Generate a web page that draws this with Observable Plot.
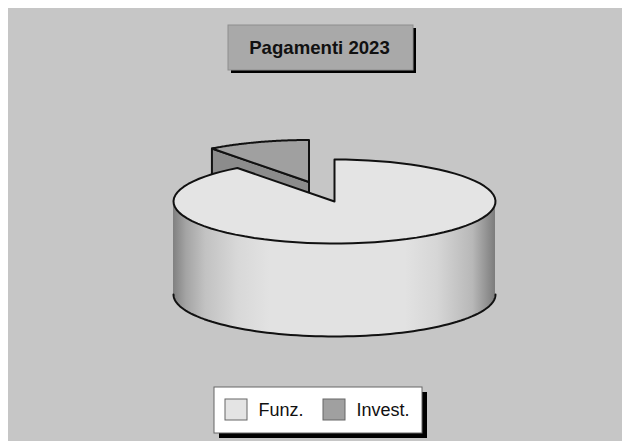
<!DOCTYPE html>
<html><head><meta charset="utf-8">
<script src="https://cdn.jsdelivr.net/npm/d3@7"></script>
<script src="https://cdn.jsdelivr.net/npm/@observablehq/plot@0.6"></script>
<style>html,body{margin:0;padding:0;background:#fff}svg{display:block}</style>
</head><body><div id="c"></div>
<script>
const title = "Pagamenti 2023";
const categories = ["Funz.", "Invest."];
const shares = [89.7, 10.3];
const colors = ["#e4e4e4", "#a0a0a0"];
const sideColor = "#8c8c8c";
const gradStops = [[0,"#808080"],[0.04,"#a4a4a4"],[0.1,"#c2c2c2"],[0.2,"#d8d8d8"],[0.3,"#e2e2e2"],[0.72,"#e2e2e2"],[0.82,"#d6d6d6"],[0.93,"#b8b8b8"],[1,"#7c7c7c"]];

const cx=334, cy=201, rx=161, ry=42, depth=93, ex=-25.5, ey=-19.5;
const inv = shares[1]/100*2*Math.PI;
// angle measured clockwise from 12 o'clock
const pt=(a,dx=0,dy=0)=>({x:cx+dx+rx*Math.sin(a), y:cy+dy-ry*Math.cos(a)});
const arc=(a0,a1,dx=0,dy=0)=>d3.range(81).map(i=>pt(a0+(a1-a0)*i/80,dx,dy));
const funzTop=[{x:cx,y:cy},...arc(0,2*Math.PI-inv),{x:cx,y:cy}];
const invTop=[{x:cx+ex,y:cy+ey},...arc(2*Math.PI-inv,2*Math.PI,ex,ey),{x:cx+ex,y:cy+ey}];
const front=arc(Math.PI/2,3*Math.PI/2);
const frontArea=front.map(p=>({x:p.x,y1:p.y,y2:p.y+depth})).sort((a,b)=>a.x-b.x);
const t=pt(2*Math.PI-inv,ex,ey), v={x:cx+ex,y:cy+ey};
const invSide=[t,v,{x:v.x,y:v.y+depth},{x:t.x,y:t.y+depth},t];

const gradient=()=>{
  const s=d3.create("svg:g");
  const g=s.append("defs").append("linearGradient").attr("id","wall");
  gradStops.forEach(([o,c])=>g.append("stop").attr("offset",o).attr("stop-color",c));
  return s.node();
};
const box=(x1,y1,x2,y2,fill,extra={})=>Plot.rect([{x1,y1,x2,y2}],{x1:"x1",x2:"x2",y1:"y1",y2:"y2",fill,...extra});
const font="Liberation Sans, Arial, sans-serif";

const chart=Plot.plot({
  width:622,height:441,margin:0,
  x:{domain:[0,622],range:[0,622],axis:null},
  y:{domain:[0,441],range:[0,441],axis:null},
  style:{background:"#fff",fontFamily:font},
  marks:[
    gradient,
    box(8,8,622,441,"#c6c6c6"),
    // title
    box(231,28,416,73,"#000"),
    box(228,25,413,70,"#a9a9a9",{stroke:"#8e8e8e"}),
    Plot.text([title],{x:319,y:48,text:d=>d,fontSize:18.6,fontWeight:"bold",fill:"#111"}),
    // exploded wedge
    Plot.line(invSide,{x:"x",y:"y",fill:sideColor,stroke:"#111",strokeWidth:2}),
    Plot.line(invTop,{x:"x",y:"y",fill:colors[1],stroke:"#111",strokeWidth:2}),
    // main wall
    Plot.areaY(frontArea,{x:"x",y1:"y1",y2:"y2",fill:"url(#wall)"}),
    Plot.line(front.map(p=>({x:p.x,y:p.y+depth})),{x:"x",y:"y",stroke:"#111",strokeWidth:2}),
    Plot.line(funzTop,{x:"x",y:"y",fill:colors[0],stroke:"#111",strokeWidth:2}),
    // legend
    box(219,392,427,438,"#000"),
    box(214,387,422,433,"#fff",{stroke:"#666"}),
    box(225,399,247,420,colors[0],{stroke:"#666"}),
    box(323,399,345,420,colors[1],{stroke:"#666"}),
    Plot.text([categories[0]],{x:258,y:410,text:d=>d,fontSize:18,textAnchor:"start",fill:"#111"}),
    Plot.text([categories[1]],{x:356,y:410,text:d=>d,fontSize:18,textAnchor:"start",fill:"#111"})
  ]
});
document.getElementById("c").append(chart);
</script></body></html>
